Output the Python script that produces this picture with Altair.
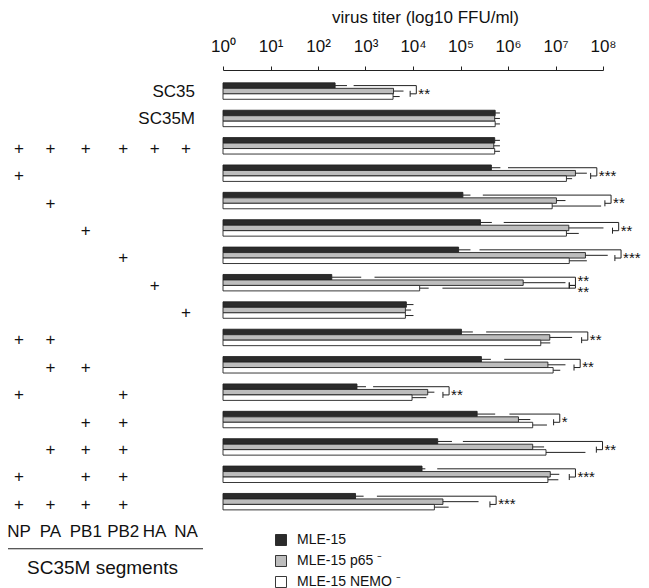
import altair as alt
import pandas as pd

# ---------------- data ----------------
series = ["MLE-15", "MLE-15 p65 ⁻", "MLE-15 NEMO ⁻"]
series_colors = ["#2b2b2b", "#bdbdbd", "#ffffff"]

row_labels = ["SC35", "SC35M"]
segments = ["NP", "PA", "PB1", "PB2", "HA", "NA"]
plus_rows = [
    [], [],
    ["NP", "PA", "PB1", "PB2", "HA", "NA"],
    ["NP"], ["PA"], ["PB1"], ["PB2"], ["HA"], ["NA"],
    ["NP", "PA"], ["PA", "PB1"], ["NP", "PB2"], ["PB1", "PB2"],
    ["PA", "PB1", "PB2"], ["NP", "PB1", "PB2"], ["NP", "PA", "PB1", "PB2"],
]

# mean virus titer, log10 FFU/ml
mle15_log = [2.36, 5.73, 5.72, 5.65, 5.05, 5.42, 4.96, 2.29, 3.86, 5.02, 5.44, 2.82, 5.35, 4.52, 4.19, 2.79]
p65_log   = [3.59, 5.72, 5.70, 7.42, 7.02, 7.28, 7.63, 6.32, 3.84, 6.88, 6.84, 4.31, 6.22, 6.52, 6.89, 4.63]
nemo_log  = [3.58, 5.73, 5.72, 7.23, 6.93, 7.23, 7.29, 4.14, 3.84, 6.69, 6.95, 3.98, 6.52, 6.80, 6.84, 4.45]
# upper end of the error bar, log10 FFU/ml
mle15_err = [2.61, 5.83, 5.83, 5.84, 5.21, 5.66, 5.21, 2.91, 4.01, 5.26, 5.64, 3.01, 5.73, 4.82, 4.26, 2.96]
p65_err   = [3.80, 5.83, 5.83, 7.66, 7.21, 8.01, 8.10, 7.21, 3.96, 7.35, 7.21, 4.45, 6.47, 6.76, 7.08, 5.38]
nemo_err  = [3.72, 5.83, 5.83, 7.35, 7.96, 7.49, 7.66, 4.33, 4.01, 6.89, 7.10, 4.28, 6.82, 7.63, 7.06, 4.75]

# significance brackets (row, series the long arm starts from, start, end in log10, label)
sig_row   = [0, 3, 4, 5, 6, 7, 7, 9, 10, 11, 12, 13, 14, 15]
sig_from  = [0, 0, 0, 0, 0, 0, 2, 0, 0, 0, 0, 0, 0, 0]
sig_start = [2.75, 6.00, 5.47, 5.91, 5.40, 3.19, 4.62, 5.54, 5.92, 3.16, 6.03, 5.05, 4.51, 3.24]
sig_end   = [4.07, 7.87, 8.17, 8.33, 8.38, 7.42, 7.42, 7.68, 7.52, 4.76, 7.09, 7.99, 7.42, 5.75]
sig_text  = ["**", "***", "**", "**", "***", "**", "**", "**", "**", "**", "*", "**", "***", "***"]

# ---------------- layout constants ----------------
BAR_OFF = [-0.2, 0.0, 0.2]
BAR_HALF = 0.1
JUNC = 0.1
TICK_BACK = 0.13
TICK_HALF = 0.11
COL_POS = [0.0, 0.94, 2.0, 3.12, 4.06, 5.0]
FONT = "Liberation Sans"
INK = "#222222"

means = [mle15_log, p65_log, nemo_log]
errs = [mle15_err, p65_err, nemo_err]

bar_rows, err_rows = [], []
for i in range(len(mle15_log)):
    for j, s in enumerate(series):
        yc = i + BAR_OFF[j]
        bar_rows.append(dict(series=s, titer=10 ** means[j][i], base=1.0,
                             y0=yc - BAR_HALF, y1=yc + BAR_HALF))
        err_rows.append(dict(lo=10 ** means[j][i], hi=10 ** errs[j][i], y=yc))
bar_df = pd.DataFrame(bar_rows)
err_df = pd.DataFrame(err_rows)

seg_rows, lab_rows = [], []
row_counts = {r: sig_row.count(r) for r in sig_row}
for r, f, s, e, t in zip(sig_row, sig_from, sig_start, sig_end, sig_text):
    L = BAR_OFF[f]
    seg_rows += [
        dict(x=10 ** s, x2=10 ** e, y=r + L, y2=r + L),
        dict(x=10 ** e, x2=10 ** e, y=r + L, y2=r + JUNC),
        dict(x=10 ** (e - TICK_BACK), x2=10 ** e, y=r + JUNC, y2=r + JUNC),
        dict(x=10 ** (e - TICK_BACK), x2=10 ** (e - TICK_BACK),
             y=r + JUNC - TICK_HALF, y2=r + JUNC + TICK_HALF),
    ]
    ly = L if row_counts[r] > 1 else -0.05
    lab_rows.append(dict(x=10 ** e, y=r + ly, text=t))
seg_df = pd.DataFrame(seg_rows)
lab_df = pd.DataFrame(lab_rows)

plus_df = pd.DataFrame([dict(c=COL_POS[segments.index(sg)], y=i, t="+")
                        for i, row in enumerate(plus_rows) for sg in row])
col_df = pd.DataFrame([dict(c=COL_POS[k], y=16.09, t=sg) for k, sg in enumerate(segments)])
name_df = pd.DataFrame([dict(c=5.27, y=i, t=n) for i, n in enumerate(row_labels)])
line_df = pd.DataFrame([dict(c=-0.33, c2=5.51, y=16.72)])
seg_title_df = pd.DataFrame([dict(c=2.5, y=17.41, t="SC35M segments")])

# ---------------- scales & axes ----------------
yscale = alt.Scale(domain=[-0.77, 15.56], reverse=True, nice=False, zero=False)
xscale = alt.Scale(type="log", domain=[1, 1e8], nice=False)
tscale = alt.Scale(domain=[0, 5], range=[-204, -37], nice=False, zero=False)

sup = "['⁰','¹','²','³','⁴','⁵','⁶','⁷','⁸']"
x_axis = alt.Axis(
    orient="top", values=[10 ** k for k in range(9)],
    labelExpr="'10' + " + sup + "[round(log(datum.value) / LN10)]",
    tickSize=4, tickColor=INK, domainColor=INK, grid=False,
    labelFont=FONT, labelFontSize=17, labelColor="#111", labelPadding=11,
    labelFlush=False, labelOverlap=False,
    title="virus titer (log10 FFU/ml)", titleFont=FONT, titleFontSize=17,
    titleFontWeight="normal", titleColor="#111",
    titleX=202, titleY=-53, titleAlign="center", titleBaseline="middle",
)
y_axis = alt.Axis(orient="left", ticks=False, labels=False, grid=False,
                  title=None, domainColor=INK)

bars = alt.Chart(bar_df).mark_rect(stroke=INK, strokeWidth=0.9).encode(
    x=alt.X("titer:Q", scale=xscale, axis=x_axis),
    x2="base:Q",
    y=alt.Y("y0:Q", scale=yscale, axis=y_axis),
    y2="y1:Q",
    color=alt.Color("series:N", scale=alt.Scale(domain=series, range=series_colors),
                    legend=alt.Legend(orient="none", legendX=51, legendY=463, title=None,
                                      symbolType="square", symbolSize=121,
                                      symbolStrokeColor=INK, symbolStrokeWidth=0.9,
                                      symbolOpacity=1, labelFont=FONT, labelFontSize=14,
                                      labelColor="#111", labelOffset=9, rowPadding=5,
                                      padding=0)),
)

errors = alt.Chart(err_df).mark_rule(color=INK, strokeWidth=1).encode(
    x=alt.X("lo:Q", scale=xscale, axis=None), x2="hi:Q",
    y=alt.Y("y:Q", scale=yscale, axis=None),
)
brackets = alt.Chart(seg_df).mark_rule(color=INK, strokeWidth=1).encode(
    x=alt.X("x:Q", scale=xscale, axis=None), x2="x2:Q",
    y=alt.Y("y:Q", scale=yscale, axis=None), y2="y2:Q",
)
stars = alt.Chart(lab_df).mark_text(align="left", baseline="middle", dx=2, dy=4,
                                    font=FONT, fontSize=15, color="#111").encode(
    x=alt.X("x:Q", scale=xscale, axis=None),
    y=alt.Y("y:Q", scale=yscale, axis=None), text="text:N",
)

def tx(df, **kw):
    return alt.Chart(df).mark_text(font=FONT, color="#111", **kw).encode(
        x=alt.X("c:Q", scale=tscale, axis=None),
        y=alt.Y("y:Q", scale=yscale, axis=None), text="t:N")

plus = tx(plus_df, fontSize=17, baseline="middle", dy=3)
cols = tx(col_df, fontSize=17, baseline="middle")
names = tx(name_df, fontSize=17, baseline="middle", align="right", dy=1)
segt = tx(seg_title_df, fontSize=19, baseline="middle")
hline = alt.Chart(line_df).mark_rule(color=INK, strokeWidth=1.2).encode(
    x=alt.X("c:Q", scale=tscale, axis=None), x2="c2:Q",
    y=alt.Y("y:Q", scale=yscale, axis=None),
)

chart = alt.layer(
    bars, errors, brackets, stars, plus, cols, names, segt, hline
).resolve_scale(x="independent").properties(
    width=380, height=447,
    autosize=alt.AutoSizeParams(type="none"),
    padding={"left": 215, "top": 62, "right": 38, "bottom": 73},
    background="white",
).configure_view(stroke=None)

chart.save("out.html", embed_options={"renderer": "svg", "actions": False})
